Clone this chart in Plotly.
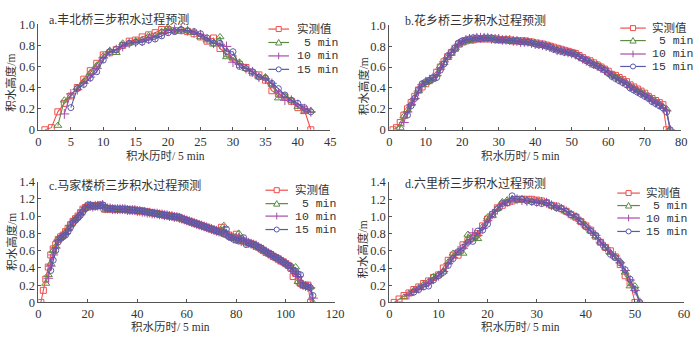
import plotly.graph_objects as go

# ---------------- data ----------------
names = ["实测值", " 5 min", "10 min", "15 min"]
titles = ["a.丰北桥三步积水过程预测", "b.花乡桥三步积水过程预测",
          "c.马家楼桥三步积水过程预测", "d.六里桥三步积水过程预测"]
x_title = "积水历时/ 5 min"
y_title = "积水高度/m"

# start index (time step) for each series
a_start = [1, 3, 4, 5]
a_obs = [0.00,0.02,0.17,0.25,0.32,0.40,0.48,0.56,0.63,0.71,0.73,0.76,0.80,0.84,0.85,0.88,0.90,0.92,0.95,0.95,0.94,0.94,0.93,0.91,0.88,0.84,0.87,0.77,0.72,0.68,0.62,0.59,0.54,0.52,0.47,0.37,0.34,0.31,0.27,0.21,0.19,0.00]
a_5 = [0.04,0.28,0.32,0.40,0.46,0.54,0.61,0.70,0.75,0.73,0.82,0.82,0.84,0.85,0.89,0.89,0.93,0.97,0.94,0.95,0.94,0.92,0.88,0.85,0.81,0.88,0.69,0.68,0.64,0.58,0.55,0.50,0.50,0.43,0.30,0.32,0.28,0.22,0.17,0.18]
a_10 = [0.15,0.34,0.38,0.44,0.50,0.58,0.68,0.74,0.76,0.79,0.82,0.83,0.84,0.86,0.88,0.91,0.94,0.95,0.95,0.94,0.92,0.90,0.86,0.82,0.81,0.79,0.64,0.62,0.58,0.55,0.50,0.48,0.44,0.35,0.28,0.28,0.24,0.20,0.17]
a_15 = [0.21,0.39,0.43,0.49,0.55,0.66,0.74,0.76,0.80,0.82,0.83,0.83,0.85,0.86,0.89,0.92,0.93,0.95,0.94,0.93,0.91,0.87,0.82,0.82,0.74,0.74,0.60,0.58,0.55,0.50,0.49,0.44,0.39,0.33,0.28,0.25,0.21,0.17]

b_start = [1, 3, 4, 5]
b_obs = [0.00,0.02,0.07,0.14,0.20,0.26,0.32,0.38,0.41,0.44,0.47,0.49,0.55,0.60,0.65,0.70,0.74,0.78,0.82,0.84,
         0.85,0.86,0.86,0.87,0.87,0.87,0.87,0.87,0.87,0.86,0.86,0.86,0.86,0.85,0.85,0.85,0.85,0.84,0.84,0.83,
         0.82,0.82,0.81,0.80,0.79,0.78,0.77,0.76,0.75,0.74,0.73,0.71,0.69,0.67,0.66,0.64,0.62,0.60,0.58,0.56,
         0.53,0.52,0.50,0.48,0.46,0.43,0.41,0.39,0.37,0.35,0.32,0.30,0.28,0.26,0.24,0.00]
b_5 = [0.02,0.13,0.19,0.25,0.31,0.37,0.43,0.45,0.47,0.49,0.53,0.61,0.64,0.69,0.73,0.77,0.81,0.83,
       0.85,0.85,0.86,0.86,0.87,0.88,0.87,0.87,0.87,0.87,0.86,0.86,0.85,0.85,0.85,0.84,0.85,0.84,0.83,0.83,
       0.82,0.81,0.80,0.80,0.78,0.77,0.76,0.75,0.74,0.73,0.72,0.70,0.68,0.67,0.65,0.63,0.62,0.60,0.58,0.55,
       0.53,0.51,0.49,0.47,0.45,0.42,0.40,0.38,0.36,0.34,0.32,0.29,0.27,0.25,0.22,0.20,0.00]
b_10 = [0.07,0.17,0.24,0.30,0.37,0.43,0.46,0.48,0.50,0.52,0.58,0.65,0.69,0.74,0.77,0.82,0.84,
        0.86,0.87,0.87,0.88,0.88,0.88,0.88,0.87,0.87,0.87,0.86,0.86,0.86,0.85,0.85,0.84,0.84,0.84,0.83,0.82,
        0.82,0.81,0.80,0.79,0.78,0.76,0.76,0.75,0.74,0.73,0.72,0.70,0.68,0.66,0.64,0.63,0.61,0.59,0.57,0.55,
        0.52,0.50,0.48,0.46,0.44,0.41,0.39,0.37,0.35,0.33,0.31,0.28,0.26,0.24,0.21,0.18,0.00]
b_15 = [0.14,0.23,0.30,0.38,0.44,0.46,0.47,0.50,0.50,0.57,0.63,0.70,0.74,0.78,0.83,0.85,
        0.86,0.87,0.88,0.88,0.87,0.88,0.88,0.88,0.86,0.86,0.86,0.86,0.85,0.85,0.85,0.84,0.84,0.84,0.83,0.82,
        0.81,0.81,0.80,0.79,0.77,0.76,0.75,0.74,0.74,0.73,0.72,0.70,0.68,0.66,0.64,0.62,0.61,0.59,0.57,0.54,
        0.51,0.49,0.47,0.45,0.43,0.40,0.38,0.36,0.34,0.32,0.30,0.27,0.25,0.23,0.21,0.17,0.00]

c_start = [1, 3, 4, 5]
c_obs = [0.00,0.14,0.27,0.41,0.55,0.62,0.67,0.73,0.76,0.78,0.82,0.86,0.90,0.94,0.97,1.00,1.04,1.08,1.10,1.11,
         1.11,1.12,1.12,1.12,1.13,1.12,1.08,1.09,1.08,1.08,1.08,1.08,1.08,1.08,1.08,1.07,1.07,1.07,1.07,1.06,
         1.06,1.06,1.05,1.05,1.04,1.04,1.03,1.03,1.02,1.02,1.01,1.01,1.00,1.00,0.99,0.99,0.98,0.97,0.96,0.95,
         0.94,0.93,0.92,0.91,0.90,0.89,0.88,0.87,0.86,0.85,0.84,0.83,0.82,0.87,0.80,0.79,0.78,0.76,0.75,0.79,
         0.73,0.72,0.71,0.70,0.69,0.68,0.67,0.65,0.64,0.62,0.60,0.58,0.57,0.55,0.53,0.52,0.50,0.48,0.47,0.45,
         0.43,0.40,0.30,0.34,0.25,0.22,0.20,0.20,0.20,0.00]
c_5 = [0.22,0.32,0.45,0.60,0.65,0.74,0.76,0.79,0.81,0.85,0.90,0.95,0.97,1.00,1.03,1.07,1.09,1.10,
       1.11,1.11,1.12,1.12,1.12,1.12,1.07,1.08,1.08,1.08,1.08,1.08,1.08,1.08,1.07,1.07,1.07,1.07,1.06,1.06,
       1.06,1.05,1.05,1.04,1.04,1.03,1.03,1.02,1.02,1.01,1.01,1.00,1.00,0.99,0.99,0.98,0.98,0.97,0.96,0.95,
       0.94,0.93,0.92,0.91,0.90,0.89,0.88,0.87,0.86,0.85,0.84,0.83,0.82,0.81,0.89,0.78,0.77,0.76,0.75,0.74,
       0.80,0.72,0.71,0.70,0.69,0.68,0.67,0.66,0.64,0.62,0.60,0.59,0.57,0.55,0.54,0.52,0.50,0.49,0.47,0.45,
       0.43,0.41,0.38,0.41,0.24,0.22,0.20,0.19,0.18,0.18,0.00]
c_10 = [0.28,0.42,0.55,0.63,0.72,0.75,0.77,0.80,0.84,0.89,0.93,0.96,0.99,1.02,1.06,1.10,1.12,
        1.12,1.11,1.12,1.12,1.12,1.13,1.09,1.09,1.09,1.08,1.08,1.08,1.08,1.08,1.08,1.07,1.07,1.07,1.07,1.06,
        1.06,1.05,1.05,1.04,1.04,1.03,1.03,1.03,1.02,1.02,1.01,1.01,1.00,1.00,0.99,0.99,0.98,0.97,0.96,0.95,
        0.94,0.93,0.92,0.91,0.90,0.89,0.88,0.87,0.86,0.85,0.84,0.83,0.82,0.82,0.82,0.79,0.77,0.76,0.74,0.75,
        0.74,0.71,0.72,0.70,0.69,0.68,0.67,0.66,0.64,0.62,0.61,0.59,0.57,0.55,0.54,0.52,0.50,0.49,0.47,0.45,
        0.43,0.40,0.36,0.33,0.30,0.22,0.20,0.19,0.18,0.17,0.05]
c_15 = [0.37,0.49,0.60,0.70,0.74,0.76,0.78,0.82,0.87,0.92,0.95,0.98,1.01,1.05,1.09,1.13,
        1.13,1.12,1.11,1.12,1.12,1.13,1.10,1.09,1.09,1.09,1.08,1.08,1.08,1.08,1.08,1.08,1.07,1.07,1.07,1.06,
        1.06,1.06,1.05,1.05,1.04,1.04,1.03,1.03,1.02,1.02,1.01,1.01,1.00,1.00,0.99,0.99,0.99,0.97,0.96,0.95,
        0.94,0.93,0.92,0.91,0.90,0.89,0.88,0.87,0.86,0.85,0.84,0.83,0.82,0.81,0.80,0.85,0.76,0.75,0.73,0.72,
        0.71,0.74,0.75,0.67,0.69,0.68,0.67,0.66,0.64,0.63,0.61,0.59,0.57,0.56,0.54,0.52,0.51,0.49,0.47,0.45,
        0.43,0.42,0.37,0.36,0.33,0.32,0.20,0.19,0.18,0.17,0.08]

d_start = [1, 3, 4, 5]
d_obs = [0.00,0.04,0.08,0.11,0.15,0.18,0.22,0.25,0.29,0.32,0.40,0.49,0.55,0.55,0.67,0.72,0.75,0.80,0.89,0.97,
         1.02,1.10,1.13,1.16,1.18,1.20,1.20,1.20,1.20,1.19,1.18,1.16,1.13,1.12,1.09,1.06,1.02,0.99,0.94,0.89,
         0.84,0.77,0.70,0.64,0.60,0.53,0.44,0.31,0.23,0.00]
d_5 = [0.06,0.10,0.14,0.17,0.21,0.24,0.30,0.32,0.36,0.47,0.57,0.58,0.57,0.79,0.75,0.74,0.88,0.99,
       1.01,1.09,1.17,1.19,1.19,1.19,1.20,1.19,1.18,1.18,1.17,1.16,1.13,1.11,1.10,1.06,1.03,0.99,0.94,0.89,
       0.83,0.77,0.70,0.64,0.58,0.53,0.48,0.35,0.19,0.19,0.00]
d_10 = [0.09,0.13,0.16,0.20,0.23,0.27,0.31,0.36,0.45,0.52,0.60,0.63,0.70,0.81,0.78,0.86,0.95,
        1.03,1.08,1.14,1.17,1.19,1.20,1.19,1.18,1.18,1.17,1.17,1.16,1.13,1.11,1.09,1.06,1.02,0.99,0.94,0.89,
        0.83,0.78,0.70,0.64,0.57,0.54,0.46,0.37,0.26,0.14,0.00]
d_15 = [0.12,0.15,0.18,0.19,0.26,0.31,0.35,0.43,0.51,0.59,0.64,0.70,0.71,0.83,0.84,0.91,
        1.03,1.09,1.15,1.16,1.24,1.20,1.20,1.18,1.17,1.16,1.15,1.16,1.13,1.10,1.09,1.06,1.02,1.00,0.94,0.88,
        0.83,0.78,0.70,0.64,0.56,0.52,0.46,0.38,0.27,0.15,0.00]

x_ticks = [[0,5,10,15,20,25,30,35,40,45], [0,10,20,30,40,50,60,70,80],
           [0,20,40,60,80,100,120], [0,10,20,30,40,50,60]]
y_ticks_ab = [0,0.2,0.4,0.6,0.8,1.0]
y_text_ab = ["0","0.2","0.4","0.6","0.8","1.0"]
y_ticks_cd = [0,0.2,0.4,0.6,0.8,1.0,1.2,1.4]
y_text_cd = ["0","0.2","0.4","0.6","0.8","1.0","1.2","1.4"]

# ---------------- style ----------------
colors = ["#f0504c", "#5c8c42", "#a84ca8", "#5a5aa8"]
symbols = ["square-open", "triangle-up-open", "cross-thin-open", "circle-open"]
msizes = [6, 7, 7, 6]

panels = [
    (a_start, [a_obs, a_5, a_10, a_15]),
    (b_start, [b_obs, b_5, b_10, b_15]),
    (c_start, [c_obs, c_5, c_10, c_15]),
    (d_start, [d_obs, d_5, d_10, d_15]),
]

W, H = 700, 343
def px(x): return x / W
def py(y): return 1 - y / H

# plot areas in pixels: (left, right, top, bottom)
areas = [(36, 333, 18, 128), (393, 690, 19, 128), (36, 338, 182, 308), (393, 693, 182.5, 308)]
xranges = [[0, 45], [0, 80], [0, 120], [0, 60]]
yranges = [[0, 1.0], [0, 1.0], [0, 1.4], [0, 1.4]]

fig = go.Figure()
serif = "Liberation Serif, Noto Sans CJK SC"

for i, (starts, series) in enumerate(panels):
    xa = "x" if i == 0 else f"x{i+1}"
    ya = "y" if i == 0 else f"y{i+1}"
    for k in range(4):
        ys = series[k]
        xs = list(range(starts[k], starts[k] + len(ys)))
        fig.add_trace(go.Scatter(
            x=xs, y=ys, mode="lines+markers", name=names[k],
            xaxis=xa, yaxis=ya, showlegend=False,
            line=dict(color=colors[k], width=1.1),
            marker=dict(symbol=symbols[k], size=msizes[k], color=colors[k],
                        line=dict(color=colors[k], width=1)),
        ))

layout = dict(width=W, height=H, margin=dict(l=0, r=0, t=0, b=0),
              paper_bgcolor="white", plot_bgcolor="white", showlegend=False)

for i in range(4):
    l, r, t, b = areas[i]
    xk = "xaxis" if i == 0 else f"xaxis{i+1}"
    yk = "yaxis" if i == 0 else f"yaxis{i+1}"
    xa = "x" if i == 0 else f"x{i+1}"
    ya = "y" if i == 0 else f"y{i+1}"
    layout[xk] = dict(domain=[px(l), px(r)], anchor=ya, range=xranges[i],
                      tickvals=x_ticks[i], showline=True, linecolor="#555", linewidth=1,
                      ticks="inside", ticklen=3, tickcolor="#555", showgrid=False, zeroline=False,
                      tickfont=dict(family=serif, size=12.5, color="#333"))
    yt = y_ticks_ab if i < 2 else y_ticks_cd
    ytt = y_text_ab if i < 2 else y_text_cd
    layout[yk] = dict(domain=[py(b), py(t)], anchor=xa, range=yranges[i],
                      tickvals=yt, ticktext=ytt, showline=True, linecolor="#555", linewidth=1,
                      ticks="inside", ticklen=3, tickcolor="#555", showgrid=False, zeroline=False,
                      tickfont=dict(family=serif, size=12.5, color="#333"))

fig.update_layout(**layout)

# ---------------- hand-made legends (compact rows as in reference) ----------------
# per panel: line x0, line x1, text x, row y positions (pixels)
legend_geo = [
    (270, 291, 297, [23, 37, 51, 65]),
    (628, 654, 658, [22, 35, 49, 62]),
    (267, 290, 295, [191, 205, 218, 232]),
    (625, 648, 652, [194, 207, 220, 234]),
]
shapes = []
ann = []
for (lx0, lx1, tx, rows) in legend_geo:
    cx = (lx0 + lx1) / 2
    for k in range(4):
        ry = rows[k]
        c = colors[k]
        shapes.append(dict(type="line", xref="paper", yref="paper",
                           x0=px(lx0), x1=px(lx1), y0=py(ry), y1=py(ry),
                           line=dict(color=c, width=1.2)))
        s = 2.6
        if k == 0:
            shapes.append(dict(type="rect", xref="paper", yref="paper",
                               x0=px(cx - s), x1=px(cx + s), y0=py(ry + s), y1=py(ry - s),
                               line=dict(color=c, width=1), fillcolor="white"))
        elif k == 1:
            path = (f"M{px(cx - 3.2)},{py(ry + 2.6)} L{px(cx + 3.2)},{py(ry + 2.6)} "
                    f"L{px(cx)},{py(ry - 3.2)} Z")
            shapes.append(dict(type="path", xref="paper", yref="paper", path=path,
                               line=dict(color=c, width=1), fillcolor="white"))
        elif k == 2:
            shapes.append(dict(type="line", xref="paper", yref="paper",
                               x0=px(cx), x1=px(cx), y0=py(ry - 3.5), y1=py(ry + 3.5),
                               line=dict(color=c, width=1)))
        else:
            shapes.append(dict(type="circle", xref="paper", yref="paper",
                               x0=px(cx - s), x1=px(cx + s), y0=py(ry + s), y1=py(ry - s),
                               line=dict(color=c, width=1), fillcolor="white"))
        ann.append(dict(x=px(tx), y=py(ry), xref="paper", yref="paper", xanchor="left",
                        yanchor="middle", text=names[k], showarrow=False,
                        font=dict(family="Liberation Mono, Noto Sans CJK SC", size=11.5, color="#333")))

title_pos = [(45, 13), (407, 14), (45, 186), (407, 184)]
for i in range(4):
    x0, y0 = title_pos[i]
    ann.append(dict(x=px(x0), y=py(y0), xref="paper", yref="paper", xanchor="left", yanchor="middle",
                    text=titles[i], showarrow=False, font=dict(family=serif, size=12, color="#333")))
xt_pos = [(165, 155), (527, 155), (170, 334), (527, 334)]
for x0, y0 in xt_pos:
    ann.append(dict(x=px(x0), y=py(y0), xref="paper", yref="paper", xanchor="center", yanchor="middle",
                    text=x_title, showarrow=False, font=dict(family=serif, size=11.5, color="#333")))
yt_pos = [(8, 79), (367, 83), (8, 245), (366, 253)]
for x0, y0 in yt_pos:
    ann.append(dict(x=px(x0), y=py(y0), xref="paper", yref="paper", xanchor="center", yanchor="middle",
                    text=y_title, textangle=-90, showarrow=False,
                    font=dict(family=serif, size=11.5, color="#333")))
fig.update_layout(annotations=ann, shapes=shapes)

fig.write_html("out.html")
